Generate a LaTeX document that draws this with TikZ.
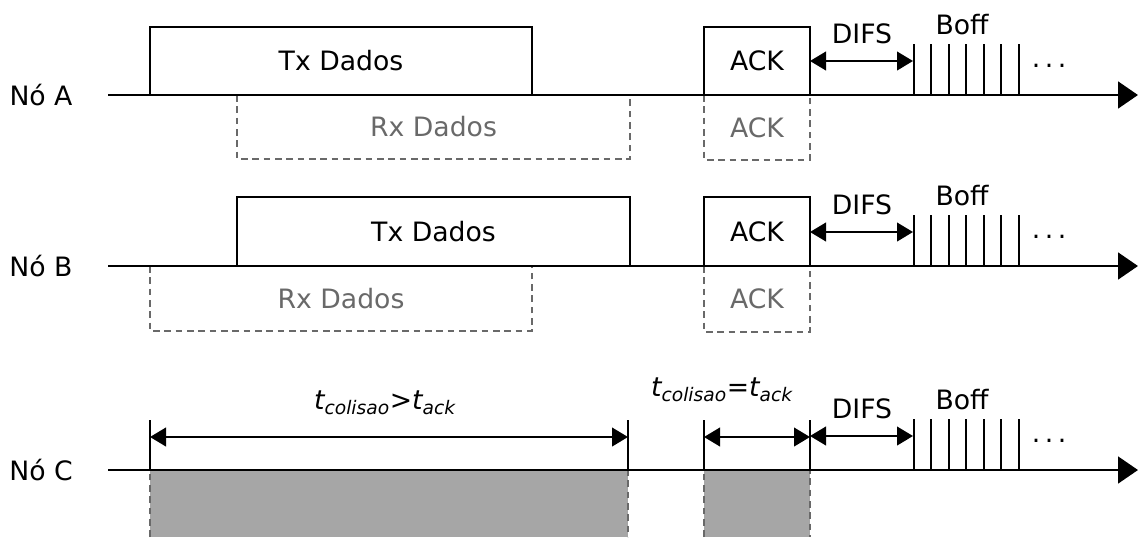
\documentclass[tikz,border=0pt]{standalone}
\usepackage{fontspec}
\setmainfont{DejaVu Sans}
\usetikzlibrary{arrows.meta}
\tikzstyle{timeline} = [x = .75pt, y = -.75pt, every node/.style={font=\fontsize{20}{24}\selectfont}]
\definecolor{rxColor}{RGB}{105,105,105}
\definecolor{busyColor}{RGB}{166,166,166}
\tikzstyle{axisLine} = [line width=2.2pt, -{Triangle[length=15pt,width=20pt]}]
\tikzstyle{txStyle} = [color=black, line width=1.4pt]
\tikzstyle{rxStyle} = [color=rxColor, line width=1.4pt, dash pattern=on 5pt off 3.5pt]
\tikzstyle{boxText} = [midway]
\tikzstyle{spanArrow} = [line width=1.5pt, {Triangle[length=12pt,width=14pt]}-{Triangle[length=12pt,width=14pt]}]
\tikzstyle{slotLine} = [line width=1.5pt]
\newcommand{\txFrame}[6]{\draw [txStyle] (#1,#2) rectangle (#3,#4) node [boxText] (#5) {#6};}
\newcommand{\rxFrame}[6]{\draw [rxStyle] (#1,#2) rectangle (#3,#4) node [boxText, text=rxColor] (#5) {#6};}
\newcommand{\station}[3]{
  \node (#1) at (41,#2) {#3};
  \coordinate (#1start) at (108,#2);
  \coordinate (#1end) at (1138,#2);
  \draw [axisLine] (#1start) -- (#1end);
}
\newcommand{\difsBoff}[2]{
  \coordinate (#2difsStart) at (810, #1 - 34);
  \coordinate (#2difsEnd) at (913, #1 - 34);
  \draw [spanArrow] (#2difsStart) -- (#2difsEnd);
  \node (#2difs) at (862, #1 - 61) {DIFS};
  \foreach \slot in {0,...,6} {
    \pgfmathsetmacro{\var}{913.5 + 17.5 * \slot}
    \draw [slotLine] (\var, #1 - 51) -- (\var, #1);
  }
  \node (#2boff) at (962, #1 - 70) {Boff};
  \node (#2dots) at (1049, #1 - 29) {.\kern3.4pt.\kern3.4pt.};
}
\newcommand{\marker}[3]{
  \coordinate (#3) at (#1, #2 - 33);
  \draw [slotLine] (#1, #2 - 50) -- (#1, #2);
}

\begin{document}
\begin{tikzpicture}[timeline]
  \useasboundingbox (0,0) rectangle (1138,537);

  % no A
  \txFrame{150}{27}{532}{95}{txA}{Tx Dados}
  \rxFrame{237}{95}{630}{159}{rxA}{Rx Dados}
  \txFrame{704}{27}{810}{95}{ackA}{ACK}
  \rxFrame{704}{95}{810}{160}{rackA}{ACK}
  \station{noA}{95}{Nó A}
  \difsBoff{95}{a}

  % no B
  \txFrame{237}{197}{630}{266}{txB}{Tx Dados}
  \rxFrame{150}{266}{532}{331}{rxB}{Rx Dados}
  \txFrame{704}{197}{810}{266}{ackB}{ACK}
  \rxFrame{704}{266}{810}{332}{rackB}{ACK}
  \station{noB}{266}{Nó B}
  \difsBoff{266}{b}

  % no C
  \fill [busyColor] (150,470) rectangle (628,537);
  \fill [busyColor] (704,470) rectangle (810,537);
  \draw [rxStyle] (150,537) -- (150,470) -- (628,470) -- (628,537);
  \draw [rxStyle] (704,537) -- (704,470) -- (810,470) -- (810,537);
  \station{noC}{470}{Nó C}
  \marker{150}{470}{colStart}
  \marker{628}{470}{colEnd}
  \marker{704}{470}{ackStart}
  \marker{810}{470}{ackEnd}
  \draw [spanArrow] (colStart) -- (colEnd);
  \draw [spanArrow] (ackStart) -- (ackEnd);
  \node (colLabel) at (385,403) {\itshape t\textsubscript{colisao}>t\textsubscript{ack}};
  \node (ackLabel) at (722,390) {\itshape t\textsubscript{colisao}=t\textsubscript{ack}};
  \difsBoff{470}{c}
\end{tikzpicture}
\end{document}
